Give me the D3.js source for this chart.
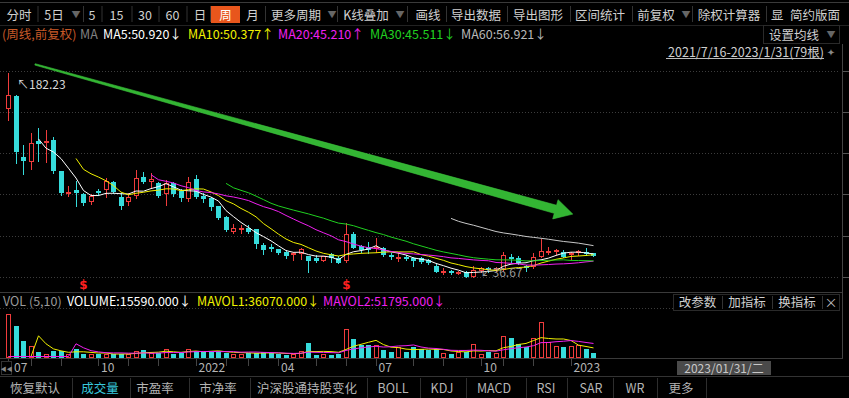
<!DOCTYPE html>
<html><head><meta charset="utf-8">
<script src="https://cdn.jsdelivr.net/npm/d3@7"></script>
<style>
html,body{margin:0;padding:0;background:#000;overflow:hidden;}
svg{display:block;font-family:"Noto Sans CJK SC","Noto Sans",sans-serif;}
</style></head><body>
<svg id="c" width="849" height="398"></svg>
<script>
// ---------- data ----------
const dates = ["2021/07/16","2021/07/23","2021/07/30","2021/08/06","2021/08/13","2021/08/20","2021/08/27","2021/09/03","2021/09/10","2021/09/17","2021/09/24","2021/09/30","2021/10/08","2021/10/15","2021/10/22","2021/10/29","2021/11/05","2021/11/12","2021/11/19","2021/11/26","2021/12/03","2021/12/10","2021/12/17","2021/12/24","2021/12/31","2022/01/07","2022/01/14","2022/01/21","2022/01/28","2022/02/11","2022/02/18","2022/02/25","2022/03/04","2022/03/11","2022/03/18","2022/03/25","2022/04/01","2022/04/08","2022/04/15","2022/04/22","2022/04/29","2022/05/06","2022/05/13","2022/05/20","2022/05/27","2022/06/02","2022/06/10","2022/06/17","2022/06/24","2022/07/01","2022/07/08","2022/07/15","2022/07/22","2022/07/29","2022/08/05","2022/08/12","2022/08/19","2022/08/26","2022/09/02","2022/09/09","2022/09/16","2022/09/23","2022/09/30","2022/10/14","2022/10/21","2022/10/28","2022/11/04","2022/11/11","2022/11/18","2022/11/25","2022/12/02","2022/12/09","2022/12/16","2022/12/23","2022/12/30","2023/01/06","2023/01/13","2023/01/20","2023/01/31"];
const open  = [156.5,165.8,122.1,118.9,133.7,132.1,134.4,112.3,96.4,98.7,95.7,90.4,98.0,98.7,104.7,93.5,90.0,94.5,107.8,104.2,103.5,95.7,104.0,98.0,92.1,106.6,94.5,93.2,87.3,79.7,69.0,70.2,71.4,70.9,59.5,58.3,56.6,54.7,52.4,53.1,51.7,50.0,48.3,52.9,50.0,48.1,67.1,58.8,58.3,57.1,57.1,52.4,50.0,50.7,50.0,50.0,48.8,44.7,40.0,41.2,38.8,40.5,36.9,41.2,42.9,41.5,41.7,50.7,50.0,44.5,43.6,51.2,53.6,55.2,54.7,52.4,54.0,54.7,54.0];
const high  = [182.23,166.5,130.9,139.9,143.2,142.0,136.8,112.5,101.8,105.2,96.5,95.7,99.2,107.1,105.4,96.8,96.4,113.0,111.8,110.7,104.7,105.9,104.7,99.2,108.2,109.4,96.4,94.0,87.5,80.0,74.5,73.8,73.8,71.3,60.7,60.0,57.0,55.9,54.7,57.6,52.0,52.4,52.0,53.6,51.7,75.4,69.0,59.5,61.9,64.7,58.3,53.6,54.7,52.4,51.2,50.7,49.3,45.9,42.9,41.5,41.2,41.0,44.7,44.0,44.0,44.0,54.7,52.9,51.7,45.2,54.0,63.6,58.3,56.6,55.9,54.7,55.9,57.6,54.0];
const low   = [148.7,118.2,110.0,113.5,119.4,118.9,110.7,95.2,94.2,87.5,88.0,88.5,95.2,94.0,96.4,85.2,88.0,92.8,103.5,101.1,94.0,88.0,94.7,91.1,91.1,92.8,90.4,84.5,78.0,69.5,67.8,68.3,67.8,57.6,52.9,55.4,53.0,50.4,48.8,49.3,40.5,47.6,48.0,47.6,46.4,47.6,57.1,54.7,53.6,54.7,52.0,49.5,48.1,48.8,44.7,46.9,46.0,40.0,38.8,39.0,38.5,36.67,36.7,40.0,40.5,41.0,41.0,47.6,46.0,41.2,42.9,50.7,52.9,53.0,50.7,49.3,52.4,52.4,51.5];
const close = [167.0,126.1,119.7,132.1,131.8,133.9,112.3,96.4,97.5,96.8,89.2,94.5,96.4,105.4,97.1,87.5,93.5,107.1,104.7,106.4,94.7,104.0,95.7,92.8,104.2,93.5,92.1,86.4,78.5,70.2,71.8,71.4,68.6,60.0,55.9,56.6,53.6,51.7,53.6,56.4,48.1,48.1,51.7,50.0,46.9,67.4,57.6,55.9,55.9,58.3,52.4,50.7,51.2,49.3,48.1,47.6,46.4,40.5,41.2,39.3,40.5,36.9,41.7,42.9,41.5,43.3,52.4,49.3,46.4,42.9,50.7,55.4,55.4,56.0,51.2,54.0,55.4,53.1,51.7];
const volume = [147000,109000,57000,40000,20400,12600,22800,24800,14600,29600,12600,12600,14600,14600,12600,12600,14600,22800,26200,17000,17000,31600,12600,17000,31600,23800,20400,20400,23800,17000,14600,14600,17000,17000,20400,17000,12600,9200,14600,23800,51000,9200,12600,11200,12600,97600,63600,45200,45200,45200,26200,20400,37400,20400,37400,29600,26200,31600,18000,12600,20400,20400,48600,14600,20400,17000,73800,68000,48600,37400,65600,122400,54400,39800,37400,39800,45200,31600,15590];
const maPeriods = [5, 10, 20, 30, 60];
const volMaPeriods = [5, 10];
const priceTicks = [36.67, 66.2, 95.7, 125.2, 154.7, 184.2];
const timeTickLabels = ["07","10","2022","04","07","10","2023"];
const timeTickDates = ["2021/07/16","2021/10/08","2022/01/07","2022/04/01","2022/07/01","2022/10/14","2023/01/06"];
const signalDates = ["2021/09/24","2022/06/02"];
const trendArrow = {from:{i:3.6, p:188.6}, to:{i:75.3, p:81.6}};

// ---------- setup ----------
const svg = d3.select("#c");
const W = 849, H = 398;
svg.append("rect").attr("width",W).attr("height",H).attr("fill","#000");
const UP = "#f03c3c", DOWN = "#36dcdc";
const MA_COL = ["#ffffff","#f0f000","#f020f0","#20d020","#c8c8c8"];

const x = d3.scalePoint().domain(dates).range([8, 593]);
const xi = d3.scaleLinear().domain([0, dates.length-1]).range([8, 593]);
const y = d3.scaleLinear().domain([36.67, 182.23]).range([277, 73.3]);
const yv = d3.scaleLinear().domain([0, d3.max(volume)]).range([358, 314.3]);

const bars = dates.map((d,i)=>({d,i,o:open[i],h:high[i],l:low[i],c:close[i],v:volume[i],up:close[i]>=open[i]}));
const cx = d => Math.round(x(d.d));

function ma(arr, n){ return arr.map((_,i)=> i<n-1 ? null : d3.mean(arr.slice(i-n+1,i+1))); }

// ---------- frame lines ----------
const g = svg.append("g");
g.append("line").attr("x1",0).attr("x2",W).attr("y1",2.5).attr("y2",2.5).attr("stroke","#3a3a3a");
g.append("line").attr("x1",0).attr("x2",W).attr("y1",25.5).attr("y2",25.5).attr("stroke","#222");
g.append("line").attr("x1",0).attr("x2",843).attr("y1",292.5).attr("y2",292.5).attr("stroke","#3a3a3a");
g.append("line").attr("x1",0).attr("x2",843).attr("y1",358.5).attr("y2",358.5).attr("stroke","#3a3a3a");
g.append("line").attr("x1",0).attr("x2",W).attr("y1",376.5).attr("y2",376.5).attr("stroke","#333");
g.append("line").attr("x1",842.5).attr("x2",842.5).attr("y1",44).attr("y2",358).attr("stroke","#444");

// price grid
priceTicks.forEach(p=>{
  const yy = Math.round(y(p))+0.5;
  g.append("line").attr("x1",0).attr("x2",840).attr("y1",yy).attr("y2",yy)
    .attr("stroke","#3c3c3c").attr("stroke-dasharray","1,2");
  g.append("line").attr("x1",843).attr("x2",849).attr("y1",yy).attr("y2",yy).attr("stroke","#555");
});
// volume grid
g.append("line").attr("x1",0).attr("x2",840).attr("y1",308.5).attr("y2",308.5)
  .attr("stroke","#3c3c3c").attr("stroke-dasharray","1,2");

// ---------- candles ----------
const cg = svg.append("g").attr("shape-rendering","crispEdges");
bars.forEach(b=>{
  const X = cx(b);
  const col = b.up ? UP : DOWN;
  cg.append("line").attr("x1",X+0.5).attr("x2",X+0.5)
    .attr("y1",Math.round(y(b.h))).attr("y2",Math.round(y(b.l))+1).attr("stroke",col);
  const top = Math.round(y(Math.max(b.o,b.c))), bot = Math.round(y(Math.min(b.o,b.c)));
  const hh = Math.max(1, bot-top);
  if(b.up){
    cg.append("rect").attr("x",X-1.5).attr("y",top+0.5).attr("width",4).attr("height",Math.max(0.5,hh-1))
      .attr("fill","#000").attr("stroke",col);
  } else {
    cg.append("rect").attr("x",X-2).attr("y",top).attr("width",5).attr("height",hh).attr("fill",col);
  }
});

// ---------- MA lines ----------
const lg = svg.append("g").attr("fill","none");
maPeriods.forEach((n,k)=>{
  const vals = ma(close,n);
  const line = d3.line().defined((v)=>v!==null).x((v,i)=>x(dates[i])+0.5).y(v=>y(v));
  lg.append("path").datum(vals).attr("d",line).attr("stroke",MA_COL[k]).attr("stroke-width",1);
});

// ---------- trend arrow annotation ----------
(function(){
  const x0 = xi(trendArrow.from.i), y0 = y(trendArrow.from.p);
  const x1 = xi(trendArrow.to.i), y1 = y(trendArrow.to.p);
  const L = Math.hypot(x1-x0,y1-y0), ux=(x1-x0)/L, uy=(y1-y0)/L, nx=-uy, ny=ux;
  const headL = 18, headW = 10, w0 = 0.7, w1 = 4.2;
  const bx = x1-ux*headL, by = y1-uy*headL;
  const pts = [
    [x0+nx*w0, y0+ny*w0],[bx+nx*w1, by+ny*w1],[bx+nx*headW, by+ny*headW],[x1,y1],
    [bx-nx*headW, by-ny*headW],[bx-nx*w1, by-ny*w1],[x0-nx*w0, y0-ny*w0]];
  svg.append("path").attr("d", d3.line()(pts)+"Z").attr("fill","#33b533").attr("stroke","#3cc43c").attr("stroke-width",0.6);
})();

// ---------- high / low labels ----------
const hiIdx = d3.maxIndex(high), loIdx = d3.minIndex(low);
svg.append("text").attr("x",x(dates[hiIdx])+9).attr("y",y(high[hiIdx])+16)
  .attr("fill","#d8d8d8").attr("font-size",12).text("↖"+high[hiIdx].toFixed(2));
svg.append("text").attr("x",x(dates[loIdx])+15).attr("y",y(low[loIdx])-0.5)
  .attr("fill","#9a9a9a").attr("font-size",12).text("↙"+low[loIdx].toFixed(2));

// signals
signalDates.forEach(d=>{
  svg.append("text").attr("x",Math.round(x(d))+0.5).attr("y",289).attr("text-anchor","middle")
    .attr("fill","#ff2020").attr("font-size",12).attr("font-weight","bold").attr("font-family","DejaVu Sans").text("$");
});

// ---------- volume ----------
const vg = svg.append("g").attr("shape-rendering","crispEdges");
bars.forEach(b=>{
  const X = cx(b), top = Math.round(yv(b.v)), bot = 358;
  if(b.up){
    vg.append("rect").attr("x",X-1.5).attr("y",top+0.5).attr("width",4).attr("height",Math.max(0.5,bot-top-1))
      .attr("fill","#000").attr("stroke",UP);
  } else {
    vg.append("rect").attr("x",X-2).attr("y",top).attr("width",5).attr("height",bot-top).attr("fill",DOWN);
  }
});
const VMA_COL = ["#f0f000","#f020f0"];
volMaPeriods.forEach((n,k)=>{
  const vals = ma(volume,n).map(v=>v===null?0:v);
  const line = d3.line().x((v,i)=>x(dates[i])+0.5).y(v=>Math.min(yv(v),356.5));
  svg.append("path").datum(vals).attr("d",line).attr("fill","none").attr("stroke",VMA_COL[k]).attr("stroke-width",1);
});

// ---------- time axis ----------
const tg = svg.append("g");
dates.forEach((d,i)=>{
  if(i===0 || d.slice(5,7)!==dates[i-1].slice(5,7)){
    const X = Math.round(x(d))+0.5;
    tg.append("line").attr("x1",X).attr("x2",X).attr("y1",359).attr("y2",366).attr("stroke","#444");
  }
});
timeTickLabels.forEach((t,k)=>{
  tg.append("text").attr("x",x(timeTickDates[k])+(k===0?6:3)).attr("y",372)
    .attr("fill","#b4b4b4").attr("font-size",12).text(t);
});
tg.append("rect").attr("x",1.5).attr("y",361.5).attr("width",10).attr("height",13).attr("fill","#000").attr("stroke","#333");
tg.append("text").attr("x",6.5).attr("y",371).attr("text-anchor","middle").attr("fill","#888").attr("font-size",6).text("◀◀");
tg.append("rect").attr("x",677).attr("y",361).attr("width",94).attr("height",14).attr("fill","#4a4a4a");
tg.append("text").attr("x",724).attr("y",372.5).attr("text-anchor","middle").attr("fill","#c8c8c8").attr("font-size",12).text("2023/01/31/二");

// ---------- top toolbar ----------
const tb = svg.append("g").attr("font-size",12.5).attr("fill","#d0d0d0");
const tbItems = [["分时",19],["5日",54],["5",92],["15",116.5],["30",145],["60",172.5],["日",200],["月",252.5],["更多周期",296],["K线叠加",366],["画线",428],["导出数据",476],["导出图形",538],["区间统计",600],["前复权",656],["除权计算器",729]];
const tbSeps = [37.5,83,101.5,131.5,158.5,186.5,210,265,337,407,446,507,570,632,692,766];
const tbDrops = [76,332,400,686];
tbSeps.forEach(s=>tb.append("line").attr("x1",s+0.5).attr("x2",s+0.5).attr("y1",6).attr("y2",22).attr("stroke","#333"));
tb.append("rect").attr("x",211).attr("y",6).attr("width",29).attr("height",17).attr("fill","#e8561c");
tb.append("text").attr("x",225.5).attr("y",19.5).attr("text-anchor","middle").attr("fill","#fff").text("周");
tbItems.forEach(([t,c])=>tb.append("text").attr("x",c).attr("y",19.5).attr("text-anchor","middle").text(t));
tbDrops.forEach(c=>tb.append("text").attr("x",c).attr("y",18).attr("text-anchor","middle").attr("fill","#666").attr("font-size",9).text("▼"));
tb.append("text").attr("x",771).attr("y",19.5).text("显");
tb.append("text").attr("x",815).attr("y",19.5).attr("text-anchor","middle").text("简约版面");

// ---------- MA legend ----------
const maLegend = [["(周线,前复权)",2,"#c85a28"],["MA",80,"#808080"],["MA5:50.920↓",103,MA_COL[0]],["MA10:50.377↑",188,MA_COL[1]],["MA20:45.210↑",278,MA_COL[2]],["MA30:45.511↓",370,MA_COL[3]],["MA60:56.921↓",461,"#b8b8b8"]];
maLegend.forEach(([t,xx,c])=>svg.append("text").attr("x",xx).attr("y",38.5).attr("fill",c).attr("font-size",12.5).text(t));

svg.append("rect").attr("x",763.5).attr("y",25.5).attr("width",76).attr("height",18).attr("fill","#000").attr("stroke","#2a2a2a");
svg.append("text").attr("x",794).attr("y",39.5).attr("text-anchor","middle").attr("fill","#d0d0d0").attr("font-size",12.5).text("设置均线");
svg.append("text").attr("x",831).attr("y",38).attr("text-anchor","middle").attr("fill","#666").attr("font-size",9).text("▼");
svg.append("text").attr("x",824).attr("y",57).attr("text-anchor","end").attr("fill","#cfcfcf").attr("font-size",12.5).text("2021/7/16-2023/1/31(79根)");
svg.append("line").attr("x1",666).attr("x2",824).attr("y1",58.5).attr("y2",58.5).attr("stroke","#bdbdbd");
svg.append("text").attr("x",831).attr("y",56).attr("text-anchor","middle").attr("fill","#888").attr("font-size",10).attr("font-family","DejaVu Sans").text("✦");

// ---------- volume legend ----------
const volLegend = [["VOL (5,10)",3,"#9a9a9a"],["VOLUME:15590.000↓",67,"#ffffff"],["MAVOL1:36070.000↓",197,"#f0f000"],["MAVOL2:51795.000↓",323,"#f020f0"]];
volLegend.forEach(([t,xx,c])=>svg.append("text").attr("x",xx).attr("y",306).attr("fill",c).attr("font-size",12.5).text(t));
svg.append("rect").attr("x",673.5).attr("y",294.5).attr("width",166).attr("height",16).attr("fill","#000").attr("stroke","#2a2a2a");
[["改参数",697.5],["加指标",747],["换指标",797]].forEach(([t,c])=>svg.append("text").attr("x",c).attr("y",307).attr("text-anchor","middle").attr("fill","#d0d0d0").attr("font-size",12.5).text(t));
[722,772,822].forEach(s=>svg.append("line").attr("x1",s+0.5).attr("x2",s+0.5).attr("y1",296).attr("y2",309).attr("stroke","#333"));
svg.append("text").attr("x",831).attr("y",307).attr("text-anchor","middle").attr("fill","#bbb").attr("font-size",13).text("×");

// ---------- bottom tabs ----------
const tabs = [["恢复默认",35],["成交量",100],["市盈率",155],["市净率",218],["沪深股通持股变化",307],["BOLL",393],["KDJ",442],["MACD",494],["RSI",546],["SAR",591],["WR",635],["更多",681]];
const tabSeps = [72,130,189,250,367,420,466,526,567,613,657,706];
tabSeps.forEach(s=>svg.append("line").attr("x1",s+0.5).attr("x2",s+0.5).attr("y1",378).attr("y2",398).attr("stroke","#2e2e2e"));
tabs.forEach(([t,c])=>svg.append("text").attr("x",c).attr("y",392.5).attr("text-anchor","middle")
  .attr("fill", t==="成交量" ? "#38c8dc" : "#b4b4b4").attr("font-size",12.5).text(t));
</script>
</body></html>
